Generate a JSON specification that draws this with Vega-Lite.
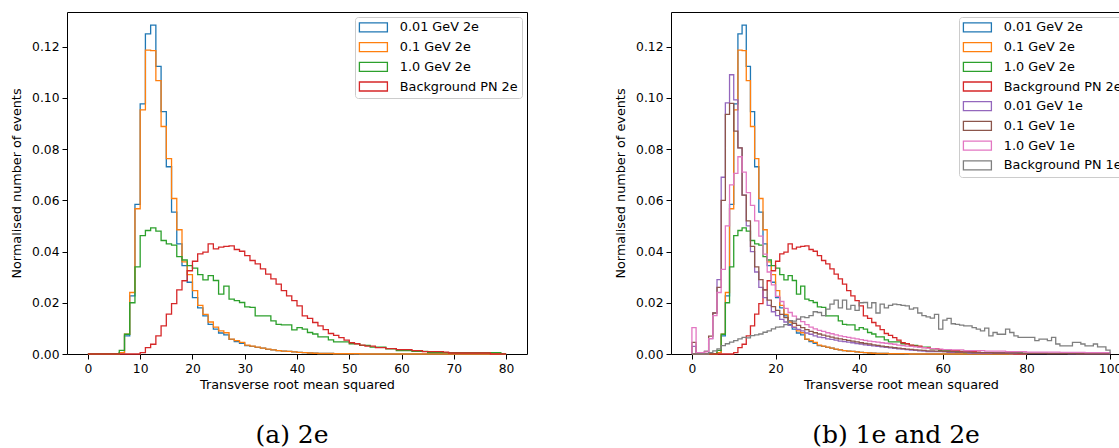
{
 "$schema": "https://vega.github.io/schema/vega-lite/v6.json",
 "padding": {"left": 10, "top": 11, "right": 0, "bottom": 0},
 "spacing": 86,
 "config": {
  "font": "DejaVu Sans",
  "view": {"stroke": "#000", "strokeWidth": 1},
  "axis": {"domain": false, "grid": false, "tickColor": "#000", "tickSize": 5, "tickWidth": 1, "labelFont": "DejaVu Sans", "labelFontSize": 12.3, "labelColor": "#000", "titleFont": "DejaVu Sans", "titleFontSize": 12.8, "titleFontWeight": "normal", "titleColor": "#000", "labelPadding": 3},
  "legend": {"orient": "top-right", "offset": 5, "symbolType": "M-2.8,-0.9H2.8V0.9H-2.8Z", "symbolSize": 100, "symbolOffset": 8, "symbolStrokeWidth": 1.5, "symbolFillColor": "transparent", "labelFont": "DejaVu Sans", "labelFontSize": 12.8, "labelColor": "#000", "labelOffset": 20, "rowPadding": 4.7, "padding": 4, "strokeColor": "#cccccc", "fillColor": "rgba(255,255,255,0.8)", "cornerRadius": 3, "labelLimit": 300},
  "title": {"font": "DejaVu Serif", "fontSize": 25, "fontWeight": "normal", "color": "#000", "orient": "bottom", "frame": "group", "anchor": "middle", "offset": 32, "dx": -5},
  "line": {"interpolate": "step-after", "strokeWidth": 1.3}
 },
 "datasets": {
  "e2": [
{"s":"0.01 GeV 2e","x":0,"y":0},{"s":"0.01 GeV 2e","x":6,"y":0.0005},{"s":"0.01 GeV 2e","x":7,"y":0.0071},{"s":"0.01 GeV 2e","x":8,"y":0.0227},{"s":"0.01 GeV 2e","x":9,"y":0.0584},{"s":"0.01 GeV 2e","x":10,"y":0.0976},{"s":"0.01 GeV 2e","x":11,"y":0.125},{"s":"0.01 GeV 2e","x":12,"y":0.1284},{"s":"0.01 GeV 2e","x":13,"y":0.1123},{"s":"0.01 GeV 2e","x":14,"y":0.0946},{"s":"0.01 GeV 2e","x":15,"y":0.0731},{"s":"0.01 GeV 2e","x":16,"y":0.0554},{"s":"0.01 GeV 2e","x":17,"y":0.043},{"s":"0.01 GeV 2e","x":18,"y":0.0345},{"s":"0.01 GeV 2e","x":19,"y":0.028},{"s":"0.01 GeV 2e","x":20,"y":0.022},{"s":"0.01 GeV 2e","x":21,"y":0.018},{"s":"0.01 GeV 2e","x":22,"y":0.0149},{"s":"0.01 GeV 2e","x":23,"y":0.0116},{"s":"0.01 GeV 2e","x":24,"y":0.0097},{"s":"0.01 GeV 2e","x":25,"y":0.0082},{"s":"0.01 GeV 2e","x":26,"y":0.0075},{"s":"0.01 GeV 2e","x":27,"y":0.0057},{"s":"0.01 GeV 2e","x":28,"y":0.0048},{"s":"0.01 GeV 2e","x":29,"y":0.0042},{"s":"0.01 GeV 2e","x":30,"y":0.0033},{"s":"0.01 GeV 2e","x":31,"y":0.003},{"s":"0.01 GeV 2e","x":32,"y":0.0026},{"s":"0.01 GeV 2e","x":33,"y":0.0023},{"s":"0.01 GeV 2e","x":34,"y":0.0018},{"s":"0.01 GeV 2e","x":35,"y":0.0016},{"s":"0.01 GeV 2e","x":36,"y":0.0013},{"s":"0.01 GeV 2e","x":37,"y":0.0011},{"s":"0.01 GeV 2e","x":38,"y":0.001},{"s":"0.01 GeV 2e","x":39,"y":0.0008},{"s":"0.01 GeV 2e","x":40,"y":0.0006},{"s":"0.01 GeV 2e","x":41,"y":0.0005},{"s":"0.01 GeV 2e","x":42,"y":0.0004},{"s":"0.01 GeV 2e","x":43,"y":0.0003},{"s":"0.01 GeV 2e","x":44,"y":0.0002},{"s":"0.01 GeV 2e","x":47,"y":0.0001},{"s":"0.01 GeV 2e","x":51,"y":0},{"s":"0.01 GeV 2e","x":80,"y":0},
{"s":"0.1 GeV 2e","x":0,"y":0},{"s":"0.1 GeV 2e","x":6,"y":0.0005},{"s":"0.1 GeV 2e","x":7,"y":0.0077},{"s":"0.1 GeV 2e","x":8,"y":0.024},{"s":"0.1 GeV 2e","x":9,"y":0.0567},{"s":"0.1 GeV 2e","x":10,"y":0.0953},{"s":"0.1 GeV 2e","x":11,"y":0.1186},{"s":"0.1 GeV 2e","x":12,"y":0.1184},{"s":"0.1 GeV 2e","x":13,"y":0.1067},{"s":"0.1 GeV 2e","x":14,"y":0.0888},{"s":"0.1 GeV 2e","x":15,"y":0.0763},{"s":"0.1 GeV 2e","x":16,"y":0.0607},{"s":"0.1 GeV 2e","x":17,"y":0.0485},{"s":"0.1 GeV 2e","x":18,"y":0.036},{"s":"0.1 GeV 2e","x":19,"y":0.031},{"s":"0.1 GeV 2e","x":20,"y":0.0247},{"s":"0.1 GeV 2e","x":21,"y":0.019},{"s":"0.1 GeV 2e","x":22,"y":0.0155},{"s":"0.1 GeV 2e","x":23,"y":0.0125},{"s":"0.1 GeV 2e","x":24,"y":0.0105},{"s":"0.1 GeV 2e","x":25,"y":0.009},{"s":"0.1 GeV 2e","x":26,"y":0.0083},{"s":"0.1 GeV 2e","x":27,"y":0.0058},{"s":"0.1 GeV 2e","x":28,"y":0.0052},{"s":"0.1 GeV 2e","x":29,"y":0.0045},{"s":"0.1 GeV 2e","x":30,"y":0.0035},{"s":"0.1 GeV 2e","x":31,"y":0.0031},{"s":"0.1 GeV 2e","x":32,"y":0.0027},{"s":"0.1 GeV 2e","x":33,"y":0.0023},{"s":"0.1 GeV 2e","x":34,"y":0.0019},{"s":"0.1 GeV 2e","x":35,"y":0.0016},{"s":"0.1 GeV 2e","x":36,"y":0.0013},{"s":"0.1 GeV 2e","x":37,"y":0.0011},{"s":"0.1 GeV 2e","x":38,"y":0.001},{"s":"0.1 GeV 2e","x":39,"y":0.0008},{"s":"0.1 GeV 2e","x":40,"y":0.0006},{"s":"0.1 GeV 2e","x":41,"y":0.0005},{"s":"0.1 GeV 2e","x":42,"y":0.0004},{"s":"0.1 GeV 2e","x":43,"y":0.0003},{"s":"0.1 GeV 2e","x":44,"y":0.0002},{"s":"0.1 GeV 2e","x":47,"y":0.0001},{"s":"0.1 GeV 2e","x":52,"y":0},{"s":"0.1 GeV 2e","x":80,"y":0},
{"s":"1.0 GeV 2e","x":0,"y":0},{"s":"1.0 GeV 2e","x":6,"y":0.0014},{"s":"1.0 GeV 2e","x":7,"y":0.0077},{"s":"1.0 GeV 2e","x":8,"y":0.02},{"s":"1.0 GeV 2e","x":9,"y":0.034},{"s":"1.0 GeV 2e","x":10,"y":0.0462},{"s":"1.0 GeV 2e","x":11,"y":0.0482},{"s":"1.0 GeV 2e","x":12,"y":0.0492},{"s":"1.0 GeV 2e","x":13,"y":0.048},{"s":"1.0 GeV 2e","x":14,"y":0.0443},{"s":"1.0 GeV 2e","x":15,"y":0.043},{"s":"1.0 GeV 2e","x":16,"y":0.0425},{"s":"1.0 GeV 2e","x":17,"y":0.038},{"s":"1.0 GeV 2e","x":18,"y":0.0367},{"s":"1.0 GeV 2e","x":19,"y":0.0345},{"s":"1.0 GeV 2e","x":20,"y":0.0335},{"s":"1.0 GeV 2e","x":21,"y":0.031},{"s":"1.0 GeV 2e","x":22,"y":0.0289},{"s":"1.0 GeV 2e","x":23,"y":0.0306},{"s":"1.0 GeV 2e","x":24,"y":0.0287},{"s":"1.0 GeV 2e","x":25,"y":0.0234},{"s":"1.0 GeV 2e","x":26,"y":0.0265},{"s":"1.0 GeV 2e","x":27,"y":0.0214},{"s":"1.0 GeV 2e","x":28,"y":0.0208},{"s":"1.0 GeV 2e","x":29,"y":0.0201},{"s":"1.0 GeV 2e","x":30,"y":0.0184},{"s":"1.0 GeV 2e","x":31,"y":0.0182},{"s":"1.0 GeV 2e","x":32,"y":0.0149},{"s":"1.0 GeV 2e","x":35,"y":0.0129},{"s":"1.0 GeV 2e","x":36,"y":0.0116},{"s":"1.0 GeV 2e","x":37,"y":0.0114},{"s":"1.0 GeV 2e","x":39,"y":0.0094},{"s":"1.0 GeV 2e","x":40,"y":0.0103},{"s":"1.0 GeV 2e","x":41,"y":0.0097},{"s":"1.0 GeV 2e","x":42,"y":0.0084},{"s":"1.0 GeV 2e","x":43,"y":0.0078},{"s":"1.0 GeV 2e","x":44,"y":0.0067},{"s":"1.0 GeV 2e","x":46,"y":0.0055},{"s":"1.0 GeV 2e","x":47,"y":0.0047},{"s":"1.0 GeV 2e","x":50,"y":0.004},{"s":"1.0 GeV 2e","x":52,"y":0.0034},{"s":"1.0 GeV 2e","x":54,"y":0.0027},{"s":"1.0 GeV 2e","x":57,"y":0.002},{"s":"1.0 GeV 2e","x":59,"y":0.0013},{"s":"1.0 GeV 2e","x":62,"y":0.001},{"s":"1.0 GeV 2e","x":65,"y":0.0005},{"s":"1.0 GeV 2e","x":79,"y":0},{"s":"1.0 GeV 2e","x":80,"y":0},
{"s":"Background PN 2e","x":0,"y":0},{"s":"Background PN 2e","x":10,"y":0.0005},{"s":"Background PN 2e","x":11,"y":0.0025},{"s":"Background PN 2e","x":12,"y":0.0038},{"s":"Background PN 2e","x":13,"y":0.0071},{"s":"Background PN 2e","x":14,"y":0.011},{"s":"Background PN 2e","x":15,"y":0.0156},{"s":"Background PN 2e","x":16,"y":0.0197},{"s":"Background PN 2e","x":17,"y":0.025},{"s":"Background PN 2e","x":18,"y":0.0286},{"s":"Background PN 2e","x":19,"y":0.0325},{"s":"Background PN 2e","x":20,"y":0.0362},{"s":"Background PN 2e","x":21,"y":0.0391},{"s":"Background PN 2e","x":22,"y":0.0398},{"s":"Background PN 2e","x":23,"y":0.043},{"s":"Background PN 2e","x":24,"y":0.041},{"s":"Background PN 2e","x":25,"y":0.0417},{"s":"Background PN 2e","x":26,"y":0.042},{"s":"Background PN 2e","x":27,"y":0.0422},{"s":"Background PN 2e","x":28,"y":0.0408},{"s":"Background PN 2e","x":29,"y":0.0401},{"s":"Background PN 2e","x":30,"y":0.0384},{"s":"Background PN 2e","x":31,"y":0.0365},{"s":"Background PN 2e","x":32,"y":0.0352},{"s":"Background PN 2e","x":33,"y":0.0332},{"s":"Background PN 2e","x":34,"y":0.0312},{"s":"Background PN 2e","x":35,"y":0.0293},{"s":"Background PN 2e","x":36,"y":0.0273},{"s":"Background PN 2e","x":37,"y":0.0247},{"s":"Background PN 2e","x":38,"y":0.0227},{"s":"Background PN 2e","x":39,"y":0.0208},{"s":"Background PN 2e","x":40,"y":0.0188},{"s":"Background PN 2e","x":41,"y":0.0149},{"s":"Background PN 2e","x":42,"y":0.0139},{"s":"Background PN 2e","x":43,"y":0.0123},{"s":"Background PN 2e","x":44,"y":0.011},{"s":"Background PN 2e","x":45,"y":0.0095},{"s":"Background PN 2e","x":46,"y":0.008},{"s":"Background PN 2e","x":47,"y":0.0073},{"s":"Background PN 2e","x":48,"y":0.0064},{"s":"Background PN 2e","x":49,"y":0.0054},{"s":"Background PN 2e","x":50,"y":0.0044},{"s":"Background PN 2e","x":51,"y":0.004},{"s":"Background PN 2e","x":52,"y":0.0035},{"s":"Background PN 2e","x":53,"y":0.0031},{"s":"Background PN 2e","x":55,"y":0.0025},{"s":"Background PN 2e","x":57,"y":0.0021},{"s":"Background PN 2e","x":59,"y":0.0017},{"s":"Background PN 2e","x":62,"y":0.0013},{"s":"Background PN 2e","x":64,"y":0.0009},{"s":"Background PN 2e","x":68,"y":0.0007},{"s":"Background PN 2e","x":69,"y":0.0004},{"s":"Background PN 2e","x":77,"y":0},{"s":"Background PN 2e","x":80,"y":0}
  ],
  "e1": [
{"s":"0.01 GeV 1e","x":0,"y":0},{"s":"0.01 GeV 1e","x":0,"y":0.003},{"s":"0.01 GeV 1e","x":1,"y":0.0005},{"s":"0.01 GeV 1e","x":3,"y":0.001},{"s":"0.01 GeV 1e","x":4,"y":0.006},{"s":"0.01 GeV 1e","x":5,"y":0.016},{"s":"0.01 GeV 1e","x":6,"y":0.029},{"s":"0.01 GeV 1e","x":7,"y":0.069},{"s":"0.01 GeV 1e","x":8,"y":0.098},{"s":"0.01 GeV 1e","x":9,"y":0.109},{"s":"0.01 GeV 1e","x":10,"y":0.0992},{"s":"0.01 GeV 1e","x":11,"y":0.0805},{"s":"0.01 GeV 1e","x":12,"y":0.062},{"s":"0.01 GeV 1e","x":13,"y":0.05},{"s":"0.01 GeV 1e","x":14,"y":0.04},{"s":"0.01 GeV 1e","x":15,"y":0.032},{"s":"0.01 GeV 1e","x":16,"y":0.026},{"s":"0.01 GeV 1e","x":17,"y":0.022},{"s":"0.01 GeV 1e","x":18,"y":0.019},{"s":"0.01 GeV 1e","x":19,"y":0.0165},{"s":"0.01 GeV 1e","x":20,"y":0.015},{"s":"0.01 GeV 1e","x":21,"y":0.0135},{"s":"0.01 GeV 1e","x":22,"y":0.0125},{"s":"0.01 GeV 1e","x":23,"y":0.0112},{"s":"0.01 GeV 1e","x":24,"y":0.0104},{"s":"0.01 GeV 1e","x":25,"y":0.0096},{"s":"0.01 GeV 1e","x":26,"y":0.009},{"s":"0.01 GeV 1e","x":27,"y":0.0082},{"s":"0.01 GeV 1e","x":28,"y":0.0077},{"s":"0.01 GeV 1e","x":29,"y":0.0071},{"s":"0.01 GeV 1e","x":30,"y":0.0066},{"s":"0.01 GeV 1e","x":31,"y":0.0064},{"s":"0.01 GeV 1e","x":32,"y":0.0059},{"s":"0.01 GeV 1e","x":33,"y":0.0057},{"s":"0.01 GeV 1e","x":34,"y":0.0054},{"s":"0.01 GeV 1e","x":35,"y":0.005},{"s":"0.01 GeV 1e","x":36,"y":0.0048},{"s":"0.01 GeV 1e","x":37,"y":0.0046},{"s":"0.01 GeV 1e","x":38,"y":0.0044},{"s":"0.01 GeV 1e","x":39,"y":0.0041},{"s":"0.01 GeV 1e","x":40,"y":0.0039},{"s":"0.01 GeV 1e","x":41,"y":0.0036},{"s":"0.01 GeV 1e","x":42,"y":0.0034},{"s":"0.01 GeV 1e","x":43,"y":0.0032},{"s":"0.01 GeV 1e","x":44,"y":0.003},{"s":"0.01 GeV 1e","x":45,"y":0.0028},{"s":"0.01 GeV 1e","x":46,"y":0.0026},{"s":"0.01 GeV 1e","x":47,"y":0.0024},{"s":"0.01 GeV 1e","x":48,"y":0.0022},{"s":"0.01 GeV 1e","x":49,"y":0.002},{"s":"0.01 GeV 1e","x":50,"y":0.0019},{"s":"0.01 GeV 1e","x":51,"y":0.0017},{"s":"0.01 GeV 1e","x":52,"y":0.0015},{"s":"0.01 GeV 1e","x":53,"y":0.0014},{"s":"0.01 GeV 1e","x":54,"y":0.0012},{"s":"0.01 GeV 1e","x":55,"y":0.0011},{"s":"0.01 GeV 1e","x":56,"y":0.0009},{"s":"0.01 GeV 1e","x":61,"y":0.0006},{"s":"0.01 GeV 1e","x":66,"y":0.0004},{"s":"0.01 GeV 1e","x":76,"y":0.0002},{"s":"0.01 GeV 1e","x":90,"y":0.0001},{"s":"0.01 GeV 1e","x":100,"y":0},
{"s":"0.1 GeV 1e","x":0,"y":0},{"s":"0.1 GeV 1e","x":0,"y":0.0045},{"s":"0.1 GeV 1e","x":1,"y":0.0005},{"s":"0.1 GeV 1e","x":3,"y":0.001},{"s":"0.1 GeV 1e","x":4,"y":0.007},{"s":"0.1 GeV 1e","x":5,"y":0.016},{"s":"0.1 GeV 1e","x":6,"y":0.026},{"s":"0.1 GeV 1e","x":7,"y":0.06},{"s":"0.1 GeV 1e","x":8,"y":0.0935},{"s":"0.1 GeV 1e","x":9,"y":0.0978},{"s":"0.1 GeV 1e","x":10,"y":0.087},{"s":"0.1 GeV 1e","x":11,"y":0.0805},{"s":"0.1 GeV 1e","x":12,"y":0.062},{"s":"0.1 GeV 1e","x":13,"y":0.052},{"s":"0.1 GeV 1e","x":14,"y":0.042},{"s":"0.1 GeV 1e","x":15,"y":0.034},{"s":"0.1 GeV 1e","x":16,"y":0.029},{"s":"0.1 GeV 1e","x":17,"y":0.025},{"s":"0.1 GeV 1e","x":18,"y":0.021},{"s":"0.1 GeV 1e","x":19,"y":0.0185},{"s":"0.1 GeV 1e","x":20,"y":0.017},{"s":"0.1 GeV 1e","x":21,"y":0.0155},{"s":"0.1 GeV 1e","x":22,"y":0.0142},{"s":"0.1 GeV 1e","x":23,"y":0.013},{"s":"0.1 GeV 1e","x":24,"y":0.012},{"s":"0.1 GeV 1e","x":25,"y":0.0112},{"s":"0.1 GeV 1e","x":26,"y":0.0103},{"s":"0.1 GeV 1e","x":27,"y":0.0095},{"s":"0.1 GeV 1e","x":28,"y":0.0088},{"s":"0.1 GeV 1e","x":29,"y":0.0083},{"s":"0.1 GeV 1e","x":30,"y":0.0078},{"s":"0.1 GeV 1e","x":31,"y":0.0074},{"s":"0.1 GeV 1e","x":32,"y":0.007},{"s":"0.1 GeV 1e","x":33,"y":0.0066},{"s":"0.1 GeV 1e","x":34,"y":0.0062},{"s":"0.1 GeV 1e","x":35,"y":0.0059},{"s":"0.1 GeV 1e","x":36,"y":0.0056},{"s":"0.1 GeV 1e","x":37,"y":0.0053},{"s":"0.1 GeV 1e","x":38,"y":0.005},{"s":"0.1 GeV 1e","x":39,"y":0.0047},{"s":"0.1 GeV 1e","x":40,"y":0.0044},{"s":"0.1 GeV 1e","x":41,"y":0.0041},{"s":"0.1 GeV 1e","x":42,"y":0.0039},{"s":"0.1 GeV 1e","x":43,"y":0.0036},{"s":"0.1 GeV 1e","x":44,"y":0.0034},{"s":"0.1 GeV 1e","x":45,"y":0.0031},{"s":"0.1 GeV 1e","x":46,"y":0.0029},{"s":"0.1 GeV 1e","x":47,"y":0.0027},{"s":"0.1 GeV 1e","x":48,"y":0.0025},{"s":"0.1 GeV 1e","x":49,"y":0.0023},{"s":"0.1 GeV 1e","x":50,"y":0.0021},{"s":"0.1 GeV 1e","x":51,"y":0.0019},{"s":"0.1 GeV 1e","x":52,"y":0.0018},{"s":"0.1 GeV 1e","x":53,"y":0.0016},{"s":"0.1 GeV 1e","x":54,"y":0.0015},{"s":"0.1 GeV 1e","x":55,"y":0.0014},{"s":"0.1 GeV 1e","x":56,"y":0.0012},{"s":"0.1 GeV 1e","x":58,"y":0.0011},{"s":"0.1 GeV 1e","x":60,"y":0.0009},{"s":"0.1 GeV 1e","x":63,"y":0.0007},{"s":"0.1 GeV 1e","x":67,"y":0.0005},{"s":"0.1 GeV 1e","x":72,"y":0.0004},{"s":"0.1 GeV 1e","x":78,"y":0.0003},{"s":"0.1 GeV 1e","x":85,"y":0.0002},{"s":"0.1 GeV 1e","x":92,"y":0.0001},{"s":"0.1 GeV 1e","x":100,"y":0},
{"s":"1.0 GeV 1e","x":0,"y":0},{"s":"1.0 GeV 1e","x":0,"y":0.0103},{"s":"1.0 GeV 1e","x":1,"y":0.0005},{"s":"1.0 GeV 1e","x":3,"y":0.0008},{"s":"1.0 GeV 1e","x":4,"y":0.006},{"s":"1.0 GeV 1e","x":5,"y":0.015},{"s":"1.0 GeV 1e","x":6,"y":0.024},{"s":"1.0 GeV 1e","x":7,"y":0.033},{"s":"1.0 GeV 1e","x":8,"y":0.05},{"s":"1.0 GeV 1e","x":9,"y":0.066},{"s":"1.0 GeV 1e","x":10,"y":0.0705},{"s":"1.0 GeV 1e","x":11,"y":0.077},{"s":"1.0 GeV 1e","x":12,"y":0.071},{"s":"1.0 GeV 1e","x":13,"y":0.063},{"s":"1.0 GeV 1e","x":14,"y":0.058},{"s":"1.0 GeV 1e","x":15,"y":0.052},{"s":"1.0 GeV 1e","x":16,"y":0.046},{"s":"1.0 GeV 1e","x":17,"y":0.039},{"s":"1.0 GeV 1e","x":18,"y":0.032},{"s":"1.0 GeV 1e","x":19,"y":0.027},{"s":"1.0 GeV 1e","x":20,"y":0.0225},{"s":"1.0 GeV 1e","x":21,"y":0.0205},{"s":"1.0 GeV 1e","x":22,"y":0.0178},{"s":"1.0 GeV 1e","x":23,"y":0.0162},{"s":"1.0 GeV 1e","x":24,"y":0.0148},{"s":"1.0 GeV 1e","x":25,"y":0.0135},{"s":"1.0 GeV 1e","x":26,"y":0.0126},{"s":"1.0 GeV 1e","x":27,"y":0.0115},{"s":"1.0 GeV 1e","x":28,"y":0.0105},{"s":"1.0 GeV 1e","x":29,"y":0.0098},{"s":"1.0 GeV 1e","x":30,"y":0.0092},{"s":"1.0 GeV 1e","x":31,"y":0.0088},{"s":"1.0 GeV 1e","x":32,"y":0.0083},{"s":"1.0 GeV 1e","x":33,"y":0.0079},{"s":"1.0 GeV 1e","x":34,"y":0.0075},{"s":"1.0 GeV 1e","x":35,"y":0.0071},{"s":"1.0 GeV 1e","x":36,"y":0.0068},{"s":"1.0 GeV 1e","x":37,"y":0.0065},{"s":"1.0 GeV 1e","x":38,"y":0.0062},{"s":"1.0 GeV 1e","x":39,"y":0.0059},{"s":"1.0 GeV 1e","x":40,"y":0.0056},{"s":"1.0 GeV 1e","x":41,"y":0.0053},{"s":"1.0 GeV 1e","x":42,"y":0.005},{"s":"1.0 GeV 1e","x":43,"y":0.0048},{"s":"1.0 GeV 1e","x":44,"y":0.0046},{"s":"1.0 GeV 1e","x":45,"y":0.0044},{"s":"1.0 GeV 1e","x":46,"y":0.0042},{"s":"1.0 GeV 1e","x":47,"y":0.004},{"s":"1.0 GeV 1e","x":48,"y":0.0038},{"s":"1.0 GeV 1e","x":49,"y":0.0035},{"s":"1.0 GeV 1e","x":50,"y":0.0033},{"s":"1.0 GeV 1e","x":51,"y":0.0031},{"s":"1.0 GeV 1e","x":52,"y":0.003},{"s":"1.0 GeV 1e","x":53,"y":0.0028},{"s":"1.0 GeV 1e","x":54,"y":0.0026},{"s":"1.0 GeV 1e","x":55,"y":0.0025},{"s":"1.0 GeV 1e","x":56,"y":0.0023},{"s":"1.0 GeV 1e","x":57,"y":0.0021},{"s":"1.0 GeV 1e","x":58,"y":0.002},{"s":"1.0 GeV 1e","x":59,"y":0.0019},{"s":"1.0 GeV 1e","x":60,"y":0.0017},{"s":"1.0 GeV 1e","x":62,"y":0.0016},{"s":"1.0 GeV 1e","x":65,"y":0.0013},{"s":"1.0 GeV 1e","x":70,"y":0.0011},{"s":"1.0 GeV 1e","x":75,"y":0.0009},{"s":"1.0 GeV 1e","x":80,"y":0.0007},{"s":"1.0 GeV 1e","x":88,"y":0.0006},{"s":"1.0 GeV 1e","x":94,"y":0.0005},{"s":"1.0 GeV 1e","x":100,"y":0},
{"s":"Background PN 1e","x":0,"y":0},{"s":"Background PN 1e","x":4,"y":0.0005},{"s":"Background PN 1e","x":5,"y":0.0012},{"s":"Background PN 1e","x":6,"y":0.002},{"s":"Background PN 1e","x":7,"y":0.0033},{"s":"Background PN 1e","x":8,"y":0.004},{"s":"Background PN 1e","x":9,"y":0.0046},{"s":"Background PN 1e","x":10,"y":0.0052},{"s":"Background PN 1e","x":11,"y":0.0059},{"s":"Background PN 1e","x":12,"y":0.0065},{"s":"Background PN 1e","x":13,"y":0.0063},{"s":"Background PN 1e","x":14,"y":0.0072},{"s":"Background PN 1e","x":15,"y":0.0075},{"s":"Background PN 1e","x":16,"y":0.0078},{"s":"Background PN 1e","x":17,"y":0.0085},{"s":"Background PN 1e","x":18,"y":0.009},{"s":"Background PN 1e","x":19,"y":0.0098},{"s":"Background PN 1e","x":20,"y":0.0105},{"s":"Background PN 1e","x":21,"y":0.0106},{"s":"Background PN 1e","x":22,"y":0.0115},{"s":"Background PN 1e","x":23,"y":0.013},{"s":"Background PN 1e","x":24,"y":0.0128},{"s":"Background PN 1e","x":25,"y":0.0136},{"s":"Background PN 1e","x":26,"y":0.0145},{"s":"Background PN 1e","x":27,"y":0.0142},{"s":"Background PN 1e","x":28,"y":0.015},{"s":"Background PN 1e","x":29,"y":0.0165},{"s":"Background PN 1e","x":30,"y":0.0162},{"s":"Background PN 1e","x":31,"y":0.015},{"s":"Background PN 1e","x":32,"y":0.0175},{"s":"Background PN 1e","x":33,"y":0.0195},{"s":"Background PN 1e","x":34,"y":0.021},{"s":"Background PN 1e","x":35,"y":0.018},{"s":"Background PN 1e","x":36,"y":0.021},{"s":"Background PN 1e","x":37,"y":0.0175},{"s":"Background PN 1e","x":38,"y":0.019},{"s":"Background PN 1e","x":39,"y":0.017},{"s":"Background PN 1e","x":40,"y":0.02},{"s":"Background PN 1e","x":41,"y":0.0201},{"s":"Background PN 1e","x":42,"y":0.018},{"s":"Background PN 1e","x":43,"y":0.02},{"s":"Background PN 1e","x":44,"y":0.016},{"s":"Background PN 1e","x":45,"y":0.0195},{"s":"Background PN 1e","x":46,"y":0.018},{"s":"Background PN 1e","x":47,"y":0.019},{"s":"Background PN 1e","x":48,"y":0.0195},{"s":"Background PN 1e","x":49,"y":0.0193},{"s":"Background PN 1e","x":50,"y":0.019},{"s":"Background PN 1e","x":51,"y":0.0188},{"s":"Background PN 1e","x":52,"y":0.0175},{"s":"Background PN 1e","x":53,"y":0.018},{"s":"Background PN 1e","x":54,"y":0.016},{"s":"Background PN 1e","x":55,"y":0.015},{"s":"Background PN 1e","x":56,"y":0.0145},{"s":"Background PN 1e","x":57,"y":0.014},{"s":"Background PN 1e","x":58,"y":0.0155},{"s":"Background PN 1e","x":59,"y":0.0097},{"s":"Background PN 1e","x":60,"y":0.0132},{"s":"Background PN 1e","x":61,"y":0.0139},{"s":"Background PN 1e","x":62,"y":0.0118},{"s":"Background PN 1e","x":63,"y":0.0116},{"s":"Background PN 1e","x":64,"y":0.0113},{"s":"Background PN 1e","x":65,"y":0.011},{"s":"Background PN 1e","x":67,"y":0.0103},{"s":"Background PN 1e","x":68,"y":0.0097},{"s":"Background PN 1e","x":69,"y":0.009},{"s":"Background PN 1e","x":70,"y":0.0101},{"s":"Background PN 1e","x":71,"y":0.0071},{"s":"Background PN 1e","x":72,"y":0.0084},{"s":"Background PN 1e","x":73,"y":0.0077},{"s":"Background PN 1e","x":75,"y":0.0097},{"s":"Background PN 1e","x":76,"y":0.0084},{"s":"Background PN 1e","x":77,"y":0.0071},{"s":"Background PN 1e","x":78,"y":0.0065},{"s":"Background PN 1e","x":82,"y":0.0052},{"s":"Background PN 1e","x":83,"y":0.0058},{"s":"Background PN 1e","x":85,"y":0.0052},{"s":"Background PN 1e","x":86,"y":0.0065},{"s":"Background PN 1e","x":87,"y":0.0039},{"s":"Background PN 1e","x":88,"y":0.0032},{"s":"Background PN 1e","x":91,"y":0.0045},{"s":"Background PN 1e","x":93,"y":0.0039},{"s":"Background PN 1e","x":94,"y":0.0032},{"s":"Background PN 1e","x":96,"y":0.0039},{"s":"Background PN 1e","x":97,"y":0.0028},{"s":"Background PN 1e","x":99,"y":0.0015},{"s":"Background PN 1e","x":100,"y":0}
  ]
 },
 "hconcat": [
  {
   "width": 460,
   "height": 342,
   "data": {"name": "e2"},
   "title": {"text": "(a) 2e"},
   "mark": {"type": "line"},
   "encoding": {
    "x": {"field": "x", "type": "quantitative", "scale": {"domain": [-4, 84], "nice": false, "zero": false}, "axis": {"values": [0, 10, 20, 30, 40, 50, 60, 70, 80], "title": "Transverse root mean squared"}},
    "y": {"field": "y", "type": "quantitative", "scale": {"domain": [0, 0.1335], "nice": false}, "axis": {"values": [0, 0.02, 0.04, 0.06, 0.08, 0.1, 0.12], "format": ".2f", "title": "Normalised number of events", "titlePadding": 8}},
    "color": {"field": "s", "type": "nominal", "scale": {"domain": ["0.01 GeV 2e", "0.1 GeV 2e", "1.0 GeV 2e", "Background PN 2e"], "range": ["#1f77b4", "#ff7f0e", "#2ca02c", "#d62728"]}, "legend": {"title": null}}
   }
  },
  {
   "width": 460,
   "height": 342,
   "title": {"text": "(b) 1e and 2e"},
   "encoding": {
    "x": {"field": "x", "type": "quantitative", "scale": {"domain": [-5, 105], "nice": false, "zero": false}, "axis": {"values": [0, 20, 40, 60, 80, 100], "title": "Transverse root mean squared"}},
    "y": {"field": "y", "type": "quantitative", "scale": {"domain": [0, 0.1335], "nice": false}, "axis": {"values": [0, 0.02, 0.04, 0.06, 0.08, 0.1, 0.12], "format": ".2f", "title": "Normalised number of events", "titlePadding": 8}},
    "color": {"field": "s", "type": "nominal", "scale": {"domain": ["0.01 GeV 2e", "0.1 GeV 2e", "1.0 GeV 2e", "Background PN 2e", "0.01 GeV 1e", "0.1 GeV 1e", "1.0 GeV 1e", "Background PN 1e"], "range": ["#1f77b4", "#ff7f0e", "#2ca02c", "#d62728", "#9467bd", "#8c564b", "#e377c2", "#7f7f7f"]}, "legend": {"title": null}}
   },
   "layer": [
    {"data": {"name": "e2"}, "mark": {"type": "line"}},
    {"data": {"name": "e1"}, "mark": {"type": "line"}}
   ]
  }
 ],
 "resolve": {"scale": {"color": "independent"}}
}
